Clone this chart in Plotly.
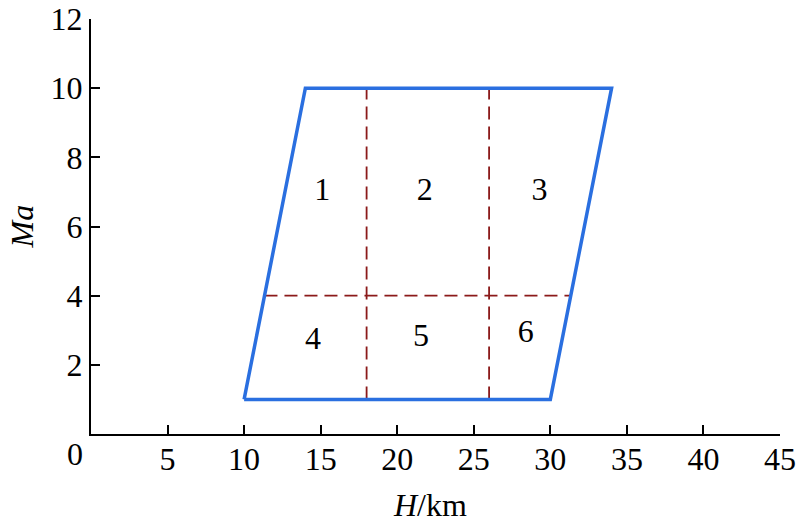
import plotly.graph_objects as go

# Envelope (parallelogram) vertices: H (km), Ma
env_h = [10, 30, 34, 14, 10]
env_ma = [1, 1, 10, 10, 1]

# Dashed partition lines
split_h = [18, 26]
split_ma_range = [1, 10]
hline_ma = 4
hline_h_range = [11.33, 31.33]

# Region labels
region_text = ["1", "2", "3", "4", "5", "6"]
region_h = [15.1, 21.8, 29.3, 14.5, 21.55, 28.4]
region_ma = [7.0, 7.0, 7.0, 2.7, 2.78, 2.9]

x_ticks = [5, 10, 15, 20, 25, 30, 35, 40, 45]
y_ticks = [2, 4, 6, 8, 10, 12]
origin_label = "0"
x_title = "<i>H</i>/km"
y_title = "<i>Ma</i>"

FONT = "Liberation Serif"
FS = 32
BLUE = "#2a6fe0"
RED = "#8b1a1a"

fig = go.Figure()

dash_style = dict(color=RED, width=1.8, dash="13px,7px")
for h in split_h:
    fig.add_trace(go.Scatter(x=[h, h], y=split_ma_range, mode="lines",
                             line=dash_style, showlegend=False, hoverinfo="skip"))
fig.add_trace(go.Scatter(x=hline_h_range, y=[hline_ma, hline_ma], mode="lines",
                         line=dash_style, showlegend=False, hoverinfo="skip"))

fig.add_trace(go.Scatter(x=env_h, y=env_ma, mode="lines",
                         line=dict(color=BLUE, width=3.5), showlegend=False))

fig.add_trace(go.Scatter(x=region_h, y=region_ma, mode="text", text=region_text,
                         textfont=dict(family=FONT, size=FS, color="black"),
                         showlegend=False))

axis_common = dict(showline=True, linecolor="black", linewidth=2, ticks="inside",
                   ticklen=9, tickwidth=2, tickcolor="black", showgrid=False,
                   zeroline=False, mirror=False, automargin=False,
                   tickfont=dict(family=FONT, size=FS, color="black"))

fig.update_layout(
    width=800, height=527,
    margin=dict(l=91, r=20, t=19, b=93),
    paper_bgcolor="white", plot_bgcolor="white",
    font=dict(family=FONT, size=FS, color="black"),
    xaxis=dict(range=[0, 45], tickvals=x_ticks, ticktext=[str(v) for v in x_ticks],
               ticklabelstandoff=-4, **axis_common),
    yaxis=dict(range=[0, 12], tickvals=y_ticks, ticktext=[str(v) for v in y_ticks],
               **axis_common),
    annotations=[
        dict(text=origin_label, x=0, y=0, xref="paper", yref="paper",
             xanchor="center", yanchor="middle", xshift=-16, yshift=-20,
             showarrow=False, font=dict(family=FONT, size=FS)),
        dict(text=x_title, x=0.492, y=0, xref="paper", yref="paper",
             xanchor="center", yanchor="middle", yshift=-71,
             showarrow=False, font=dict(family=FONT, size=FS)),
        dict(text=y_title, x=0, y=0.5, xref="paper", yref="paper",
             xanchor="center", yanchor="middle", xshift=-70, textangle=-90,
             showarrow=False, font=dict(family=FONT, size=FS)),
    ],
)

fig.write_html("out.html", config={"displayModeBar": False},
               post_script="document.body.style.margin='0';")
